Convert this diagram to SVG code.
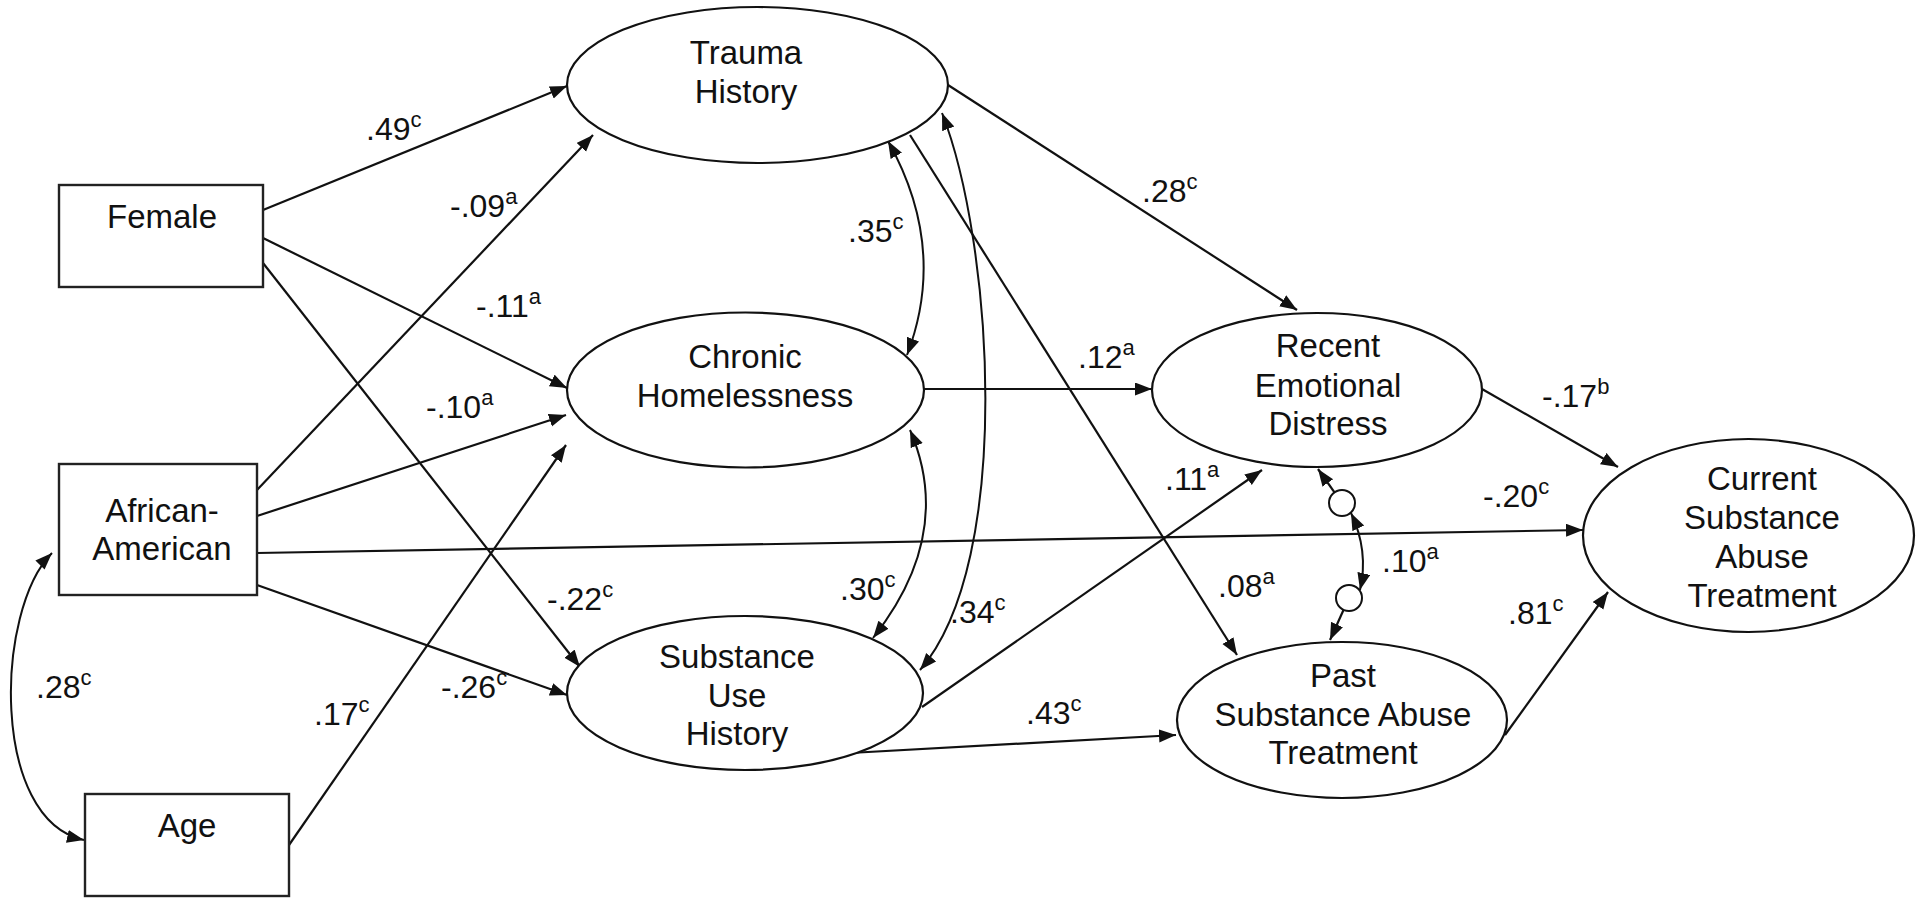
<svg xmlns="http://www.w3.org/2000/svg" width="1920" height="904" viewBox="0 0 1920 904">
<style>
  .node { fill: #ffffff; stroke: #111111; stroke-width: 2.2; }
  .box { fill: #ffffff; stroke: #222222; stroke-width: 2.4; }
  .err { fill: #ffffff; stroke: #111111; stroke-width: 2; }
  .edge { fill: none; stroke: #111111; stroke-width: 2.2; marker-end: url(#ah); }
  .cov { fill: none; stroke: #111111; stroke-width: 2; marker-start: url(#ah); marker-end: url(#ah); }
  .t { font-family: "Liberation Sans", Arial, Helvetica, sans-serif; font-size: 33px; fill: #111111; text-anchor: middle; }
  .lbl { font-family: "Liberation Sans", Arial, Helvetica, sans-serif; font-size: 32px; fill: #111111; }
  .sup { font-size: 22px; }
</style>
<defs>
  <marker id="ah" markerUnits="userSpaceOnUse" markerWidth="18" markerHeight="14" viewBox="0 0 18 14" refX="17" refY="6.5" orient="auto-start-reverse">
    <path d="M0,0 L17,6.5 L0,13 Z" fill="#111111"/>
  </marker>
</defs>
<rect x="0" y="0" width="1920" height="904" fill="#ffffff"/>

<g id="connectors">
  <line class="edge" x1="263" y1="210" x2="567" y2="86"/>
  <line class="edge" x1="257" y1="490" x2="593" y2="135"/>
  <line class="edge" x1="263" y1="238" x2="567" y2="388"/>
  <line class="edge" x1="257" y1="516" x2="566" y2="415"/>
  <line class="edge" x1="289" y1="845" x2="566" y2="445"/>
  <line class="edge" x1="263" y1="263" x2="580" y2="667"/>
  <line class="edge" x1="257" y1="585" x2="567" y2="695"/>
  <line class="edge" x1="257" y1="553" x2="1583" y2="530"/>
  <line class="edge" x1="948" y1="85" x2="1297" y2="310"/>
  <line class="edge" x1="910" y1="135" x2="1237" y2="655"/>
  <line class="edge" x1="924" y1="389" x2="1152" y2="389"/>
  <line class="edge" x1="922" y1="707" x2="1262" y2="470"/>
  <line class="edge" x1="850" y1="753" x2="1176" y2="735"/>
  <line class="edge" x1="1482" y1="389" x2="1618" y2="467"/>
  <line class="edge" x1="1505" y1="735" x2="1608" y2="592"/>
  <path class="cov" d="M888,141 Q948,248 907,355"/>
  <path class="cov" d="M910,430 Q955,534 873,638"/>
  <path class="cov" d="M942,113 C992,240 1015,560 920,670"/>
  <path class="cov" d="M52,553 C-5,610 -10,820 84,840"/>
  <line class="edge" x1="1334.5" y1="492.4" x2="1318" y2="469"/>
  <line class="edge" x1="1343.6" y1="609.8" x2="1330" y2="640"/>
  <path class="cov" d="M1351,513 Q1369,551 1360,590"/>
</g>

<g id="labels">
  <text class="lbl" x="366" y="140">.49<tspan class="sup" dy="-13">c</tspan></text>
  <text class="lbl" x="450" y="217">-.09<tspan class="sup" dy="-13">a</tspan></text>
  <text class="lbl" x="476" y="317">-.11<tspan class="sup" dy="-13">a</tspan></text>
  <text class="lbl" x="426" y="418">-.10<tspan class="sup" dy="-13">a</tspan></text>
  <text class="lbl" x="848" y="242">.35<tspan class="sup" dy="-13">c</tspan></text>
  <text class="lbl" x="1142" y="202">.28<tspan class="sup" dy="-13">c</tspan></text>
  <text class="lbl" x="1078" y="368">.12<tspan class="sup" dy="-13">a</tspan></text>
  <text class="lbl" x="1542" y="407">-.17<tspan class="sup" dy="-13">b</tspan></text>
  <text class="lbl" x="1165" y="490">.11<tspan class="sup" dy="-13">a</tspan></text>
  <text class="lbl" x="1483" y="507">-.20<tspan class="sup" dy="-13">c</tspan></text>
  <text class="lbl" x="1382" y="572">.10<tspan class="sup" dy="-13">a</tspan></text>
  <text class="lbl" x="1218" y="597">.08<tspan class="sup" dy="-13">a</tspan></text>
  <text class="lbl" x="1508" y="624">.81<tspan class="sup" dy="-13">c</tspan></text>
  <text class="lbl" x="1026" y="724">.43<tspan class="sup" dy="-13">c</tspan></text>
  <text class="lbl" x="547" y="610">-.22<tspan class="sup" dy="-13">c</tspan></text>
  <text class="lbl" x="840" y="600">.30<tspan class="sup" dy="-13">c</tspan></text>
  <text class="lbl" x="950" y="623">.34<tspan class="sup" dy="-13">c</tspan></text>
  <text class="lbl" x="36" y="698">.28<tspan class="sup" dy="-13">c</tspan></text>
  <text class="lbl" x="314" y="725">.17<tspan class="sup" dy="-13">c</tspan></text>
  <text class="lbl" x="441" y="698">-.26<tspan class="sup" dy="-13">c</tspan></text>
</g>

<g id="female">
  <rect class="box" x="59" y="185" width="204" height="102"/>
  <text class="t" x="162" y="228">Female</text>
</g>
<g id="african-american">
  <rect class="box" x="59" y="464" width="198" height="131"/>
  <text class="t" x="162" y="522">African-</text>
  <text class="t" x="162" y="560">American</text>
</g>
<g id="age">
  <rect class="box" x="85" y="794" width="204" height="102"/>
  <text class="t" x="187" y="837">Age</text>
</g>
<g id="trauma-history">
  <ellipse class="node" cx="757.5" cy="85" rx="190.5" ry="78"/>
  <text class="t" x="746" y="64">Trauma</text>
  <text class="t" x="746" y="103">History</text>
</g>
<g id="chronic-homelessness">
  <ellipse class="node" cx="745.5" cy="390" rx="178.5" ry="77.5"/>
  <text class="t" x="745" y="368">Chronic</text>
  <text class="t" x="745" y="407">Homelessness</text>
</g>
<g id="substance-use-history">
  <ellipse class="node" cx="745" cy="693" rx="178" ry="77"/>
  <text class="t" x="737" y="668">Substance</text>
  <text class="t" x="737" y="707">Use</text>
  <text class="t" x="737" y="745">History</text>
</g>
<g id="recent-emotional-distress">
  <ellipse class="node" cx="1317" cy="390" rx="165" ry="77"/>
  <text class="t" x="1328" y="357">Recent</text>
  <text class="t" x="1328" y="397">Emotional</text>
  <text class="t" x="1328" y="435">Distress</text>
</g>
<g id="past-substance-abuse-treatment">
  <ellipse class="node" cx="1342" cy="720" rx="165" ry="78"/>
  <text class="t" x="1343" y="687">Past</text>
  <text class="t" x="1343" y="726">Substance Abuse</text>
  <text class="t" x="1343" y="764">Treatment</text>
</g>
<g id="current-substance-abuse-treatment">
  <ellipse class="node" cx="1748.5" cy="535.5" rx="165.5" ry="96.5"/>
  <text class="t" x="1762" y="490">Current</text>
  <text class="t" x="1762" y="529">Substance</text>
  <text class="t" x="1762" y="568">Abuse</text>
  <text class="t" x="1762" y="607">Treatment</text>
</g>
<g id="error-recent">
  <circle class="err" cx="1342" cy="503" r="13"/>
</g>
<g id="error-past">
  <circle class="err" cx="1349" cy="598" r="13"/>
</g>
</svg>
